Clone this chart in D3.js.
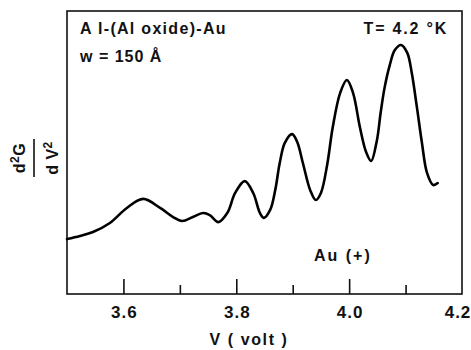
<!DOCTYPE html>
<html>
<head>
<meta charset="utf-8">
<script src="https://cdn.jsdelivr.net/npm/d3@7"></script>
<style>
  html, body { margin: 0; padding: 0; background: #fff; }
  svg { display: block; }
  text { font-family: "Liberation Sans", Arial, sans-serif; fill: #111; font-weight: bold; }
</style>
</head>
<body>
<svg id="chart" width="471" height="350"></svg>
<script>
// Second-derivative tunnelling spectrum, Al-(Al oxide)-Au junction
const voltage = [3.500, 3.523, 3.546, 3.576, 3.606, 3.635, 3.665, 3.688, 3.704, 3.723,
  3.741, 3.753, 3.768, 3.784, 3.798, 3.815, 3.830, 3.842, 3.849, 3.860,
  3.869, 3.877, 3.886, 3.899, 3.908, 3.918, 3.931, 3.941, 3.950, 3.961,
  3.971, 3.984, 3.996, 4.007, 4.019, 4.030, 4.039, 4.049, 4.056, 4.063,
  4.072, 4.081, 4.092, 4.103, 4.111, 4.120, 4.129, 4.138, 4.149, 4.157];
const d2G = [19.4, 20.5, 21.9, 25.1, 30.4, 33.6, 30.4, 27.2, 25.8, 27.2,
  28.6, 27.9, 25.4, 28.6, 35.7, 39.9, 35.7, 28.6, 26.9, 29.7,
  36.7, 46.3, 53.4, 56.5, 53.7, 46.3, 36.7, 33.2, 35.7, 45.6,
  59.0, 71.0, 75.6, 71.0, 59.0, 50.2, 47.0, 54.1, 64.3, 73.1,
  80.9, 86.2, 88.0, 85.2, 78.1, 66.1, 53.4, 42.8, 38.5, 39.2];
const majorTicks = [3.6, 3.8, 4.0, 4.2];
const minorTicks = [3.7, 3.9, 4.1];
const tickLabels = ["3.6", "3.8", "4.0", "4.2"];

const svg = d3.select("#chart");
const W = 471;
const frame = { left: 67, right: 462, top: 11, bottom: 294 };

const x = d3.scaleLinear().domain([3.5, 4.2]).range([frame.left, frame.right]);
const y = d3.scaleLinear().domain([0, 100]).range([frame.bottom, frame.top]);

// frame
svg.append("rect")
  .attr("x", frame.left).attr("y", frame.top)
  .attr("width", frame.right - frame.left).attr("height", frame.bottom - frame.top)
  .attr("fill", "none").attr("stroke", "#111").attr("stroke-width", 1.6);

// inward ticks along the voltage axis
const major = svg.append("g").attr("transform", `translate(0,${frame.bottom})`)
  .call(d3.axisBottom(x).tickValues(majorTicks.filter(v => v < 4.2))
    .tickSize(-15).tickFormat(""));
const minor = svg.append("g").attr("transform", `translate(0,${frame.bottom})`)
  .call(d3.axisBottom(x).tickValues(minorTicks).tickSize(-9).tickFormat(""));
[major, minor].forEach(g => {
  g.select(".domain").remove();
  g.selectAll("line").attr("stroke", "#111").attr("stroke-width", 1.6);
});

// tick labels (the last one is held inside the page edge)
svg.append("g").selectAll("text").data(majorTicks).join("text")
  .attr("x", d => Math.min(x(d) + 1, W - 13)).attr("y", 318)
  .attr("text-anchor", "middle")
  .attr("font-size", 17).attr("letter-spacing", 1)
  .text((d, i) => tickLabels[i]);

// axis title
svg.append("text").attr("x", 249).attr("y", 345)
  .attr("text-anchor", "middle").attr("font-size", 16).attr("letter-spacing", 1.6)
  .text("V ( volt )");

// d²G / dV² as a rotated fraction
const yl = svg.append("g").attr("transform", "translate(34,158) rotate(-90)");
const num = yl.append("text").attr("x", 0).attr("y", -9)
  .attr("text-anchor", "middle").attr("font-size", 16).attr("letter-spacing", 0.5);
num.append("tspan").text("d");
num.append("tspan").attr("font-size", 12).attr("dy", -6).text("2");
num.append("tspan").attr("dy", 6).text("G");
yl.append("line").attr("x1", -19).attr("x2", 19).attr("y1", 0).attr("y2", 0)
  .attr("stroke", "#111").attr("stroke-width", 1.6);
const den = yl.append("text").attr("x", 0).attr("y", 24)
  .attr("text-anchor", "middle").attr("font-size", 16).attr("letter-spacing", 0.5);
den.append("tspan").text("d V");
den.append("tspan").attr("font-size", 12).attr("dy", -6).text("2");

// annotations
svg.append("text").attr("x", 80).attr("y", 34).attr("font-size", 16).attr("letter-spacing", 1.3)
  .text("A l-(Al oxide)-Au");
svg.append("text").attr("x", 80).attr("y", 62).attr("font-size", 16).attr("letter-spacing", 1)
  .text("w = 150 Å");
svg.append("text").attr("x", 448).attr("y", 34).attr("text-anchor", "end")
  .attr("font-size", 16).attr("letter-spacing", 1.8)
  .text("T= 4.2 °K");
svg.append("text").attr("x", 314).attr("y", 261).attr("font-size", 16).attr("letter-spacing", 2)
  .text("Au (+)");

// spectrum
const pts = voltage.map((v, i) => [v, d2G[i]]);
svg.append("path")
  .datum(pts)
  .attr("fill", "none").attr("stroke", "#000").attr("stroke-width", 2.6)
  .attr("stroke-linejoin", "round").attr("stroke-linecap", "round")
  .attr("d", d3.line().x(d => x(d[0])).y(d => y(d[1])).curve(d3.curveCatmullRom.alpha(0.5)));
</script>
</body>
</html>
